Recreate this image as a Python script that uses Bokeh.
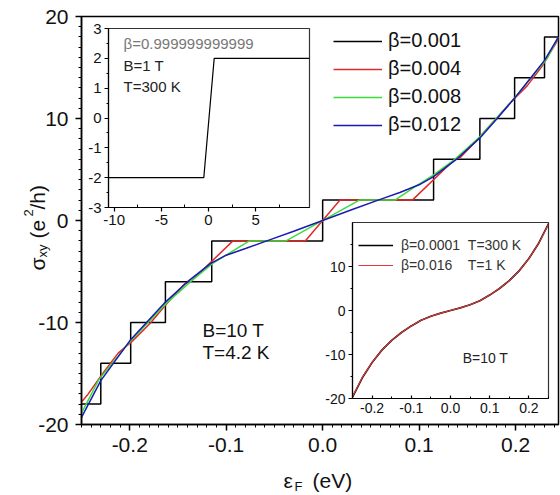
import math
from bokeh.plotting import figure
from bokeh.models import (Range1d, FixedTicker, NumeralTickFormatter, Legend,
                          LegendItem, Label)
from bokeh.embed import file_html
from bokeh.resources import INLINE

FONT = "Liberation Sans"

# ---------------- main panel (B=10 T, T=4.2 K) ----------------
black_x = [-0.25, -0.23, -0.199, -0.163, -0.115, 0.0, 0.115, 0.163, 0.199, 0.23, 0.2445]
black_y = [-18, -14, -10, -6, -2, 2, 6, 10, 14, 18, 18]

red_x = [-0.25, -0.243, -0.228, -0.212, -0.197, -0.179, -0.163, -0.143, -0.137, -0.093,
         -0.018, 0.018, 0.093, 0.137, 0.143, 0.163, 0.18, 0.197, 0.212, 0.228, 0.2445]
red_y = [-17.8, -17.0, -15.0, -13.0, -11.8, -10.1, -8.3, -6.2, -6.0, -2.0,
         -2.0, 2.0, 2.0, 6.0, 6.2, 8.2, 10.0, 11.8, 13.2, 15.2, 17.8]

green_x = [-0.25, -0.232, -0.2, -0.163, -0.137, -0.114, -0.076, -0.038, 0.038, 0.075,
           0.097, 0.114, 0.137, 0.163, 0.197, 0.232, 0.2445]
green_y = [-18.9, -15.6, -11.9, -8.2, -6.0, -4.2, -2.0, -2.0, 2.0, 2.0,
           3.4, 4.4, 6.0, 8.2, 11.8, 15.8, 18.0]

blue_x = [-0.25, -0.23, -0.2, -0.163, -0.14, -0.116, -0.1, -0.08, -0.055, -0.03, 0.0,
          0.03, 0.059, 0.08, 0.1, 0.115, 0.14, 0.163, 0.18, 0.199, 0.215, 0.23, 0.2445]
blue_y = [-19.3, -15.7, -11.8, -8.0, -6.0, -4.2, -3.4, -2.75, -1.9, -1.05, 0.0,
          1.05, 2.05, 2.75, 3.5, 4.3, 6.1, 8.1, 9.9, 12.0, 13.9, 15.7, 18.0]

legend_labels = ["β=0.001", "β=0.004", "β=0.008", "β=0.012"]
line_colors = ["#000000", "#e02a2a", "#3ddc3d", "#1a1ab4"]

main_xticks = [-0.2, -0.1, 0.0, 0.1, 0.2]
main_yticks = [-20, -10, 0, 10, 20]
main_notes = ["B=10 T", "T=4.2 K"]

# ---------------- inset 1 (B=1 T, T=300 K) ----------------
in1_x = [-10.6, -0.5, 0.6, 10.7]
in1_y = [-2, -2, 2, 2]
in1_xticks = [-10, -5, 0, 5]
in1_yticks = [-3, -2, -1, 0, 1, 2, 3]
in1_texts = ["β=0.999999999999", "B=1 T", "T=300 K"]

# ---------------- inset 2 (B=10 T) ----------------
in2_x = [-0.25, -0.225, -0.2, -0.175, -0.15, -0.125, -0.1, -0.075, -0.05, -0.025, 0.0,
         0.025, 0.05, 0.075, 0.1, 0.125, 0.15, 0.175, 0.2, 0.225, 0.25]
in2_black = [-19.7, -15.3, -11.8, -9.0, -6.8, -5.0, -3.5, -2.2, -1.3, -0.6, 0.0,
             0.6, 1.3, 2.2, 3.5, 5.0, 6.8, 9.0, 11.8, 15.3, 19.7]
in2_red = [-19.6, -15.2, -11.8, -9.0, -6.8, -5.0, -3.5, -2.2, -1.3, -0.6, 0.0,
           0.6, 1.3, 2.2, 3.5, 5.0, 6.8, 9.0, 11.8, 15.3, 19.6]
in2_labels = ["β=0.0001\u00a0\u00a0T=300 K", "β=0.016\u00a0\u00a0\u00a0\u00a0T=1 K"]
in2_xticks = [-0.2, -0.1, 0.0, 0.1, 0.2]
in2_yticks = [-20, -10, 0, 10]


def style_axis(ax, size, tick_in, tick_out, minor_in, minor_out, standoff, lw=1.5):
    ax.axis_line_color = "black"
    ax.axis_line_width = lw
    ax.major_tick_line_color = "black"
    ax.major_tick_line_width = lw
    ax.minor_tick_line_color = "black"
    ax.minor_tick_line_width = 1
    ax.major_tick_in = tick_in
    ax.major_tick_out = tick_out
    ax.minor_tick_in = minor_in
    ax.minor_tick_out = minor_out
    ax.major_label_standoff = standoff
    ax.major_label_text_font = FONT
    ax.major_label_text_font_size = size
    ax.major_label_text_color = "#111111"


def clean(fig):
    fig.xgrid.visible = False
    fig.ygrid.visible = False


# ---------------- main figure (page origin is the top-left corner) ----------------
p = figure(width=560, height=495, x_range=Range1d(-0.25, 0.2445), y_range=Range1d(-20, 20),
           output_backend="svg", toolbar_location=None,
           min_border_left=81, min_border_right=2, min_border_top=16, min_border_bottom=71)
clean(p)
p.outline_line_color = "black"
p.outline_line_width = 1.5
p.xaxis.ticker = FixedTicker(ticks=main_xticks,
                             minor_ticks=[round(-0.25 + 0.01 * i, 2) for i in range(50)])
p.xaxis.formatter = NumeralTickFormatter(format="0.0")
p.yaxis.ticker = FixedTicker(ticks=main_yticks, minor_ticks=list(range(-20, 21)))
p.yaxis.formatter = NumeralTickFormatter(format="0")
style_axis(p.xaxis[0], "21px", 0, 6, 0, 3, 7)
style_axis(p.yaxis[0], "21px", 0, 6, 0, 3, 7)

r_black = p.step(black_x, black_y, mode="after", line_color=line_colors[0], line_width=1.5)
r_red = p.line(red_x, red_y, line_color=line_colors[1], line_width=1.5)
r_green = p.line(green_x, green_y, line_color=line_colors[2], line_width=1.5)
r_blue = p.line(blue_x, blue_y, line_color=line_colors[3], line_width=1.5)

leg = Legend(items=[LegendItem(label=l, renderers=[r]) for l, r in
                    zip(legend_labels, [r_black, r_red, r_green, r_blue])],
             location=(252, 288), orientation="vertical")
leg.border_line_color = None
leg.background_fill_alpha = 0
leg.padding = 0
leg.margin = 0
leg.spacing = 5
leg.glyph_width = 49
leg.glyph_height = 20
leg.label_height = 20
leg.label_standoff = 6
leg.label_text_font = FONT
leg.label_text_font_size = "20px"
leg.label_text_color = "#111111"
p.add_layout(leg, "center")

for txt, yv in zip(main_notes, [-10.8, -12.95]):
    p.add_layout(Label(x=-0.1246, y=yv, text=txt, text_font=FONT,
                       text_font_size="19px", text_color="#111111",
                       text_align="left", text_baseline="middle"))

# ---------------- axis-title overlay (page pixel coordinates) ----------------
ann = figure(width=560, height=495, x_range=Range1d(0, 560), y_range=Range1d(495, 0),
             output_backend="svg", toolbar_location=None,
             x_axis_location=None, y_axis_location=None,
             min_border_left=0, min_border_right=0, min_border_top=0, min_border_bottom=0,
             styles={"position": "absolute", "left": "0px", "top": "0px"})
clean(ann)
ann.outline_line_color = None
ann.background_fill_alpha = 0
ann.border_fill_alpha = 0

base = 37
ytitle = [("σ", "21px", base, 270), ("xy", "13px", base + 5, 257),
          ("(e", "21px", base, 238), ("2", "13px", base - 9, 216), ("/h)", "21px", base, 209)]
for txt, fs, bx, by in ytitle:
    ann.add_layout(Label(x=bx, y=by, text=txt, text_font=FONT,
                         text_font_size=fs, text_color="#111111", angle=math.pi / 2,
                         text_align="left", text_baseline="alphabetic"))
xtitle = [("ε", "21px", 283, 480), ("F", "13px", 294, 486), ("(eV)", "21px", 312, 480)]
for txt, fs, bx, by in xtitle:
    ann.add_layout(Label(x=bx, y=by, text=txt, text_font=FONT,
                         text_font_size=fs, text_color="#111111",
                         text_align="left", text_baseline="alphabetic"))

# ---------------- inset 1 ----------------
ins1 = figure(width=239, height=216, x_range=Range1d(-10.6, 10.7), y_range=Range1d(-3, 3),
              output_backend="svg", toolbar_location=None,
              min_border_left=35, min_border_right=3, min_border_top=10, min_border_bottom=27,
              styles={"position": "absolute", "left": "73px", "top": "18px"})
clean(ins1)
ins1.outline_line_color = "#333333"
ins1.outline_line_width = 1.2
ins1.border_fill_alpha = 0
ins1.background_fill_color = "white"
ins1.xaxis.ticker = FixedTicker(ticks=in1_xticks, minor_ticks=[-7.5, -2.5, 2.5, 7.5])
ins1.xaxis.formatter = NumeralTickFormatter(format="0")
ins1.yaxis.ticker = FixedTicker(ticks=in1_yticks, minor_ticks=[-2.5, -1.5, -0.5, 0.5, 1.5, 2.5])
ins1.yaxis.formatter = NumeralTickFormatter(format="0")
style_axis(ins1.xaxis[0], "15px", 0, 4, 3, 0, 3, lw=1.2)
style_axis(ins1.yaxis[0], "15px", 0, 4, 0, 2, 3, lw=1.2)
ins1.line(in1_x, in1_y, line_color="black", line_width=1.2)
for txt, yv, col in zip(in1_texts, [2.5, 1.76, 1.06], ["#777777", "#222222", "#222222"]):
    ins1.add_layout(Label(x=-9.0, y=yv, text=txt, text_font=FONT, text_font_size="15px",
                          text_color=col, text_align="left", text_baseline="middle"))

# ---------------- inset 2 ----------------
ins2 = figure(width=234, height=203, x_range=Range1d(-0.25, 0.25), y_range=Range1d(-20, 20),
              output_backend="svg", toolbar_location=None,
              min_border_left=35, min_border_right=3, min_border_top=3, min_border_bottom=24,
              styles={"position": "absolute", "left": "317px", "top": "219px"})
clean(ins2)
ins2.outline_line_color = "#333333"
ins2.outline_line_width = 1.2
ins2.border_fill_alpha = 0
ins2.background_fill_color = "white"
ins2.xaxis.ticker = FixedTicker(ticks=in2_xticks, minor_ticks=[-0.25, -0.15, -0.05, 0.05, 0.15, 0.25])
ins2.xaxis.formatter = NumeralTickFormatter(format="0.0")
ins2.yaxis.ticker = FixedTicker(ticks=in2_yticks, minor_ticks=[-15, -5, 5, 15])
ins2.yaxis.formatter = NumeralTickFormatter(format="0")
style_axis(ins2.xaxis[0], "14px", 3, 0, 2, 0, 4, lw=1.2)
style_axis(ins2.yaxis[0], "14px", 0, 4, 0, 2, 3, lw=1.2)
rb = ins2.line(in2_x, in2_black, line_color="black", line_width=1.7)
rr = ins2.line(in2_x, in2_red, line_color="#e03a3a", line_width=1.1)
leg2 = Legend(items=[LegendItem(label=in2_labels[0], renderers=[rb]),
                     LegendItem(label=in2_labels[1], renderers=[rr])],
              location=(6, 125))
leg2.border_line_color = None
leg2.background_fill_alpha = 0
leg2.padding = 0
leg2.margin = 0
leg2.spacing = 4
leg2.glyph_width = 35
leg2.glyph_height = 16
leg2.label_height = 16
leg2.label_standoff = 8
leg2.label_text_font = FONT
leg2.label_text_font_size = "14px"
leg2.label_text_color = "#333333"
ins2.add_layout(leg2, "center")
ins2.add_layout(Label(x=0.031, y=-10.7, text="B=10 T", text_font=FONT, text_font_size="14px",
                      text_color="#222222", text_align="left", text_baseline="middle"))

open("out.html", "w").write(file_html([p, ann, ins1, ins2], INLINE))
